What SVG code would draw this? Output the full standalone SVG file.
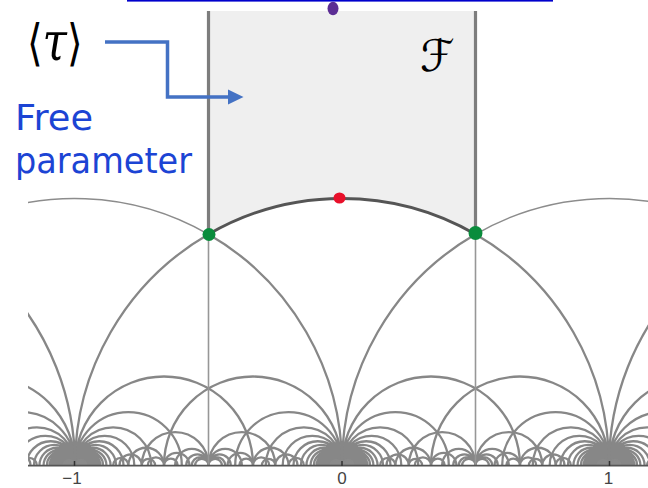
<svg xmlns="http://www.w3.org/2000/svg" xmlns:xlink="http://www.w3.org/1999/xlink" width="648" height="488" viewBox="0 0 648 488">
<style>
.arc{fill:none;stroke:#878787;stroke-width:2.3;vector-effect:non-scaling-stroke}
.blob{fill:#8a8a8a;stroke:#8a8a8a;stroke-width:1.5;vector-effect:non-scaling-stroke}
.thin{fill:none;stroke:#8c8c8c;stroke-width:1.4;vector-effect:non-scaling-stroke}
.fedge{fill:none;stroke:#555;stroke-width:2.8;vector-effect:non-scaling-stroke}
.vlow{stroke:#979797;stroke-width:1.6}
.vtop{stroke:#7d7d7d;stroke-width:3.2}
.tick{stroke:#333;stroke-width:1.5}
.num{font-family:"Liberation Sans",Arial,sans-serif;font-size:17px;fill:#444;text-anchor:middle}
.blue{font-family:"DejaVu Sans","Liberation Sans",sans-serif;font-size:35px;fill:#1c44d4}
.math{font-family:"DejaVu Serif","DejaVu Sans",serif;fill:#000}
</style>
<defs>
<clipPath id="plotclip"><rect x="28" y="11" width="620" height="455"/></clipPath>
<g id="L">
<path class="arc" d="M0 0A.333333 .333333 0 0 1 .666667 0M0 0A.2 .2 0 0 1 .4 0M0 0A.142857 .142857 0 0 1 .285714 0M0 0A.111111 .111111 0 0 1 .222222 0M0 0A.090909 .090909 0 0 1 .181818 0M0 0A.076923 .076923 0 0 1 .153846 0M0 0A.066667 .066667 0 0 1 .133333 0M0 0A.058824 .058824 0 0 1 .117647 0M0 0A.052632 .052632 0 0 1 .105263 0M0 0A.047619 .047619 0 0 1 .095238 0M0 0A.043478 .043478 0 0 1 .086957 0M0 0A.04 .04 0 0 1 .08 0M0 0A.037037 .037037 0 0 1 .074074 0M0 0A.034483 .034483 0 0 1 .068966 0M0 0A.032258 .032258 0 0 1 .064516 0M0 0A.030303 .030303 0 0 1 .060606 0M0 0A.028571 .028571 0 0 1 .057143 0M0 0A.027027 .027027 0 0 1 .054054 0M0 0A.025641 .025641 0 0 1 .051282 0M0 0A.02439 .02439 0 0 1 .04878 0M0 0A.023256 .023256 0 0 1 .046512 0"/>
<path class="blob" d="M0 0A.022222 .022222 0 0 1 .044444 0Z"/>
<path class="arc" d="M.25 0A.125 .125 0 0 1 .5 0M.375 0A.0625 .0625 0 0 1 .5 0M.416667 0A.041667 .041667 0 0 1 .5 0M.4375 0A.03125 .03125 0 0 1 .5 0M.45 0A.025 .025 0 0 1 .5 0M.2 0A.066667 .066667 0 0 1 .333333 0M.272727 0A.030303 .030303 0 0 1 .333333 0M.333333 0A.047619 .047619 0 0 1 .428571 0M.333333 0A.025641 .025641 0 0 1 .384615 0M.166667 0A.041667 .041667 0 0 1 .25 0M.25 0A.025 .025 0 0 1 .3 0M.142857 0A.028571 .028571 0 0 1 .2 0"/>
</g>
</defs>

<g id="plot" clip-path="url(#plotclip)">
  <path id="F-region" d="M208.5 11V234.27A267 267 0 0 1 475.5 234.27V11Z" fill="#efefef"/>
  <g id="tessellation" transform="matrix(267 0 0 267 342 465.5)">
    <use xlink:href="#L" href="#L" transform="translate(-1 0)"/>
    <use xlink:href="#L" href="#L"/>
    <use xlink:href="#L" href="#L" transform="translate(1 0)"/>
    <use xlink:href="#L" href="#L" transform="matrix(-1 0 0 1 -1 0)"/>
    <use xlink:href="#L" href="#L" transform="matrix(-1 0 0 1 0 0)"/>
    <use xlink:href="#L" href="#L" transform="matrix(-1 0 0 1 1 0)"/>
    <path class="arc" d="M-3 0A1 1 0 0 1 -1 0M-.5 -.866025A1 1 0 0 1 0 0M-1 0A1 1 0 0 1 -.5 -.866025M.5 -.866025A1 1 0 0 1 1 0M0 0A1 1 0 0 1 .5 -.866025M1 0A1 1 0 0 1 3 0"/>
    <path class="thin" d="M-2 0A1 1 0 0 1 -.5 -.866025M.5 -.866025A1 1 0 0 1 2 0"/>
    <path id="F-bottom" class="fedge" d="M-.5 -.866025A1 1 0 0 1 .5 -.866025"/>
  </g>
  <g id="verticals">
    <line class="vlow" x1="208.5" y1="234" x2="208.5" y2="466"/>
    <line class="vlow" x1="475.5" y1="234" x2="475.5" y2="466"/>
    <line class="vtop" x1="208.5" y1="11" x2="208.5" y2="234.3"/>
    <line class="vtop" x1="475.5" y1="11" x2="475.5" y2="234.3"/>
  </g>
</g>

<g id="axis">
  <line x1="28" y1="465.6" x2="648" y2="465.6" stroke="#555" stroke-width="1.6"/>
  <line class="tick" x1="74.5" y1="461" x2="74.5" y2="466"/>
  <line class="tick" x1="342" y1="461" x2="342" y2="466"/>
  <line class="tick" x1="609.5" y1="461" x2="609.5" y2="466"/>
  <text class="num" x="72" y="484">−1</text>
  <text class="num" x="342" y="484">0</text>
  <text class="num" x="608.5" y="484">1</text>
</g>

<rect id="top-link" x="127" y="0" width="426" height="1.6" fill="#0000cc"/>

<g id="points">
  <ellipse id="p-top" cx="333" cy="8.5" rx="5.5" ry="6.8" fill="#5b2d94"/>
  <ellipse id="p-i" cx="339.5" cy="198" rx="6" ry="5.5" fill="#e8102a"/>
  <circle id="p-rho" cx="209" cy="234.5" r="6.5" fill="#0a8c3c"/>
  <circle id="p-rho1" cx="475.5" cy="233" r="7" fill="#0a8c3c"/>
</g>

<g id="label-tau"><text class="math" x="27" y="60" font-size="40" transform="translate(27 60) scale(1 1.25) translate(-27 -60)">⟨<tspan font-style="italic" font-size="44">τ</tspan>⟩</text></g>
<g id="label-F"><text class="math" x="420" y="71" font-size="44" font-style="italic">ℱ</text></g>
<g id="label-free">
  <text class="blue" x="15" y="130" textLength="78" lengthAdjust="spacingAndGlyphs">Free</text>
  <text class="blue" x="15" y="173" textLength="177" lengthAdjust="spacingAndGlyphs">parameter</text>
</g>
<g id="connector-arrow">
  <polyline points="105,42 167.5,42 167.5,97 229,97" fill="none" stroke="#4472c4" stroke-width="3.5"/>
  <polygon points="228,89.5 243.5,97 228,104.5" fill="#4472c4"/>
</g>
</svg>
